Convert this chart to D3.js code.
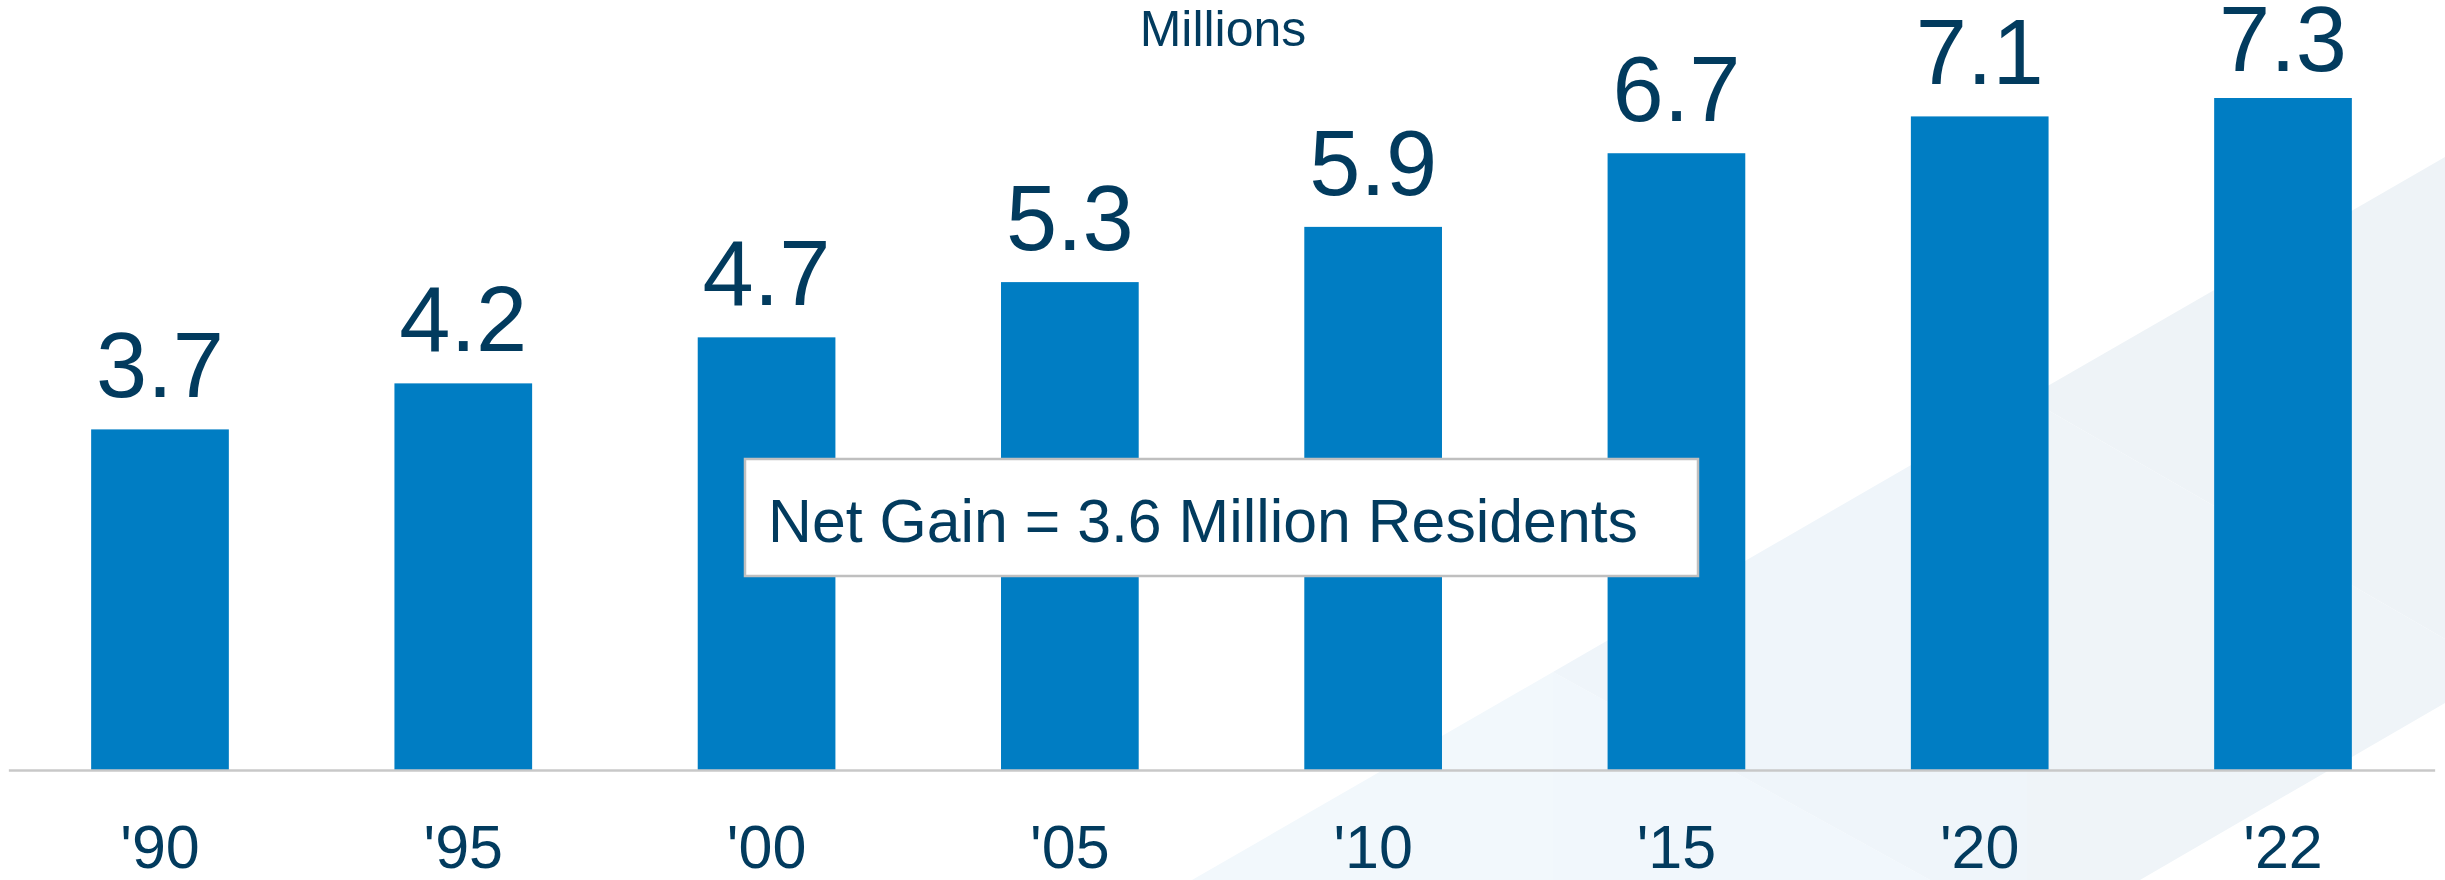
<!DOCTYPE html>
<html>
<head>
<meta charset="utf-8">
<script src="https://cdn.jsdelivr.net/npm/d3@7"></script>
<style>
  html, body { margin: 0; padding: 0; background: #fff; }
  svg { display: block; font-family: 'Liberation Sans', Arial, sans-serif; }
</style>
</head>
<body>
<div id="chart"></div>
<script>
const width = 2445;
const height = 880;

// data
const years = ["'90", "'95", "'00", "'05", "'10", "'15", "'20", "'22"];
const residents = [3.7, 4.2, 4.7, 5.3, 5.9, 6.7, 7.1, 7.3];
const unitLabel = 'Millions';
const noteText = 'Net Gain = 3.6 Million Residents';

const barColor = '#007dc3';
const textColor = '#023b5e';

const svg = d3
  .select('#chart')
  .append('svg')
  .attr('width', width)
  .attr('height', height);

// light low-poly band in the background
const facets = [
  { pts: [[1192, 880], [1553, 672], [1553, 880]], fill: '#f2f8fc' },
  { pts: [[1553, 672], [1553, 880], [1930, 880]], fill: '#f1f7fc' },
  { pts: [[1553, 672], [2027, 398], [2027, 880], [1930, 880]], fill: '#eff5fa' },
  { pts: [[2027, 398], [2445, 157], [2445, 639]], fill: '#eef3f7' },
  { pts: [[2027, 398], [2445, 639], [2445, 703], [2140, 880], [2027, 880]], fill: '#eff4f8' },
];

svg.append('g')
  .selectAll('polygon')
  .data(facets)
  .enter()
  .append('polygon')
  .attr('points', (d) => d.pts.map((p) => p.join(',')).join(' '))
  .attr('fill', (d) => d.fill);

const x = d3
  .scaleBand()
  .domain(years)
  .range([8.35, 2434.65])
  .paddingInner(0.546)
  .paddingOuter(0.273);

const y = d3.scaleLinear().domain([0, 7.3]).range([770, 98]);

const rows = years.map((yr, i) => ({ year: yr, value: residents[i] }));

svg.append('g')
  .selectAll('rect')
  .data(rows)
  .enter()
  .append('rect')
  .attr('x', (d) => x(d.year))
  .attr('y', (d) => y(d.value))
  .attr('width', x.bandwidth())
  .attr('height', (d) => y(0) - y(d.value))
  .attr('fill', barColor);

// labels sit above the bars, but the top one is squeezed by the edge
svg.append('g')
  .selectAll('text')
  .data(rows)
  .enter()
  .append('text')
  .attr('x', (d) => x(d.year) + x.bandwidth() / 2)
  .attr('y', (d) => Math.max(y(d.value) - 32, 71))
  .attr('text-anchor', 'middle')
  .attr('font-size', 92)
  .attr('fill', textColor)
  .text((d) => d.value.toFixed(1));

const xAxis = svg
  .append('g')
  .attr('transform', 'translate(0,' + y(0) + ')')
  .call(d3.axisBottom(x).tickSize(0).tickSizeOuter(0));

xAxis.select('.domain').attr('stroke', '#c8c8c8').attr('stroke-width', 2.5);
xAxis
  .selectAll('text')
  .attr('y', 98)
  .attr('dy', null)
  .attr('font-size', 61)
  .attr('font-family', "'Liberation Sans', Arial, sans-serif")
  .attr('fill', textColor);

svg.append('text')
  .attr('x', 1223)
  .attr('y', 46)
  .attr('text-anchor', 'middle')
  .attr('font-size', 50)
  .attr('fill', textColor)
  .text(unitLabel);

// annotation box
const note = svg.append('g');
note.append('rect')
  .attr('x', 745)
  .attr('y', 459)
  .attr('width', 953)
  .attr('height', 117)
  .attr('fill', '#fff')
  .attr('stroke', '#bfbfbf')
  .attr('stroke-width', 2.5);
note.append('text')
  .attr('x', 768)
  .attr('y', 542)
  .attr('font-size', 61)
  .attr('fill', textColor)
  .attr('textLength', 870)
  .attr('lengthAdjust', 'spacingAndGlyphs')
  .text(noteText);
</script>
</body>
</html>
